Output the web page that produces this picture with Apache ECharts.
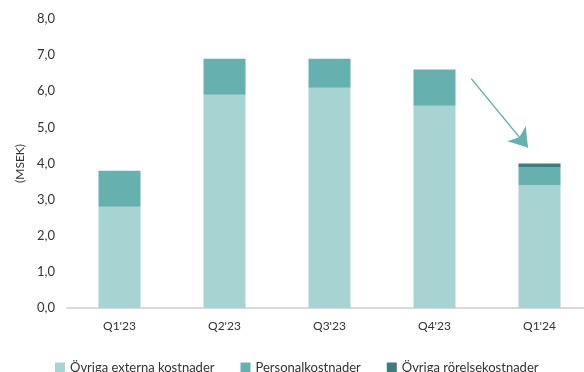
<!DOCTYPE html>
<html><head><meta charset="utf-8">
<script src="https://cdn.jsdelivr.net/npm/echarts@6/dist/echarts.min.js"></script>
<style>html,body{margin:0;padding:0;background:#fff}#c{width:584px;height:372px}</style>
</head><body><div id="c"></div>
<script>
const categories = ["Q1'23","Q2'23","Q3'23","Q4'23","Q1'24"];
const externa = [2.8, 5.9, 6.1, 5.6, 3.4];
const personal = [1.0, 1.0, 0.8, 1.0, 0.5];
const rorelse = [0, 0, 0, 0, 0.1];
const seriesNames = ["Övriga externa kostnader","Personalkostnader","Övriga rörelsekostnader"];
const colors = ["#A7D3D3","#66B0B0","#3F7C7C"];
const yTicks = {min:0, max:8, interval:1};
const arrowFrom = [3.35, 6.35];
const arrowTo = [3.89, 4.44];
const font = "Lato";
const chart = echarts.init(document.getElementById('c'));
chart.setOption({
  animation:false,
  textStyle:{fontFamily:font},
  grid:{left:67, width:525, top:19, height:289, outerBoundsMode:'none', containLabel:false},
  legend:{left:50, top:356, itemWidth:10, itemHeight:10, itemGap:26, icon:'rect',
    textStyle:{fontFamily:font, fontSize:13, color:'#333'},
    data:seriesNames},
  xAxis:[{type:'category', data:categories,
    axisLine:{lineStyle:{color:'#d9d9d9', width:2}},
    axisTick:{show:false},
    axisLabel:{color:'#333', fontSize:12, margin:12, fontFamily:font}},
    {type:'value', min:-0.5, max:4.5, show:false}],
  yAxis:{type:'value', min:yTicks.min, max:yTicks.max, interval:yTicks.interval,
    name:'(MSEK)', nameLocation:'middle', nameGap:37, nameRotate:90,
    nameTextStyle:{color:'#333', fontSize:12, fontFamily:font},
    splitLine:{show:false}, axisLine:{show:false}, axisTick:{show:false},
    axisLabel:{color:'#333', fontSize:13, margin:12, fontFamily:font,
      formatter:v=>v.toFixed(1).replace('.',',')}},
  series:[
    {name:seriesNames[0], type:'bar', stack:'s', data:externa, barWidth:42, itemStyle:{color:colors[0]}},
    {name:seriesNames[1], type:'bar', stack:'s', data:personal, barWidth:42, itemStyle:{color:colors[1]}},
    {name:seriesNames[2], type:'bar', stack:'s', data:rorelse, barWidth:42, itemStyle:{color:colors[2]}},
    {type:'line', xAxisIndex:1, data:[], silent:true,
      markLine:{silent:true, symbol:['none','arrow'], symbolSize:18, label:{show:false},
        lineStyle:{color:'#66B0B0', width:1.5, type:'solid'},
        data:[[{coord:arrowFrom},{coord:arrowTo}]]}}
  ]
});
</script></body></html>
